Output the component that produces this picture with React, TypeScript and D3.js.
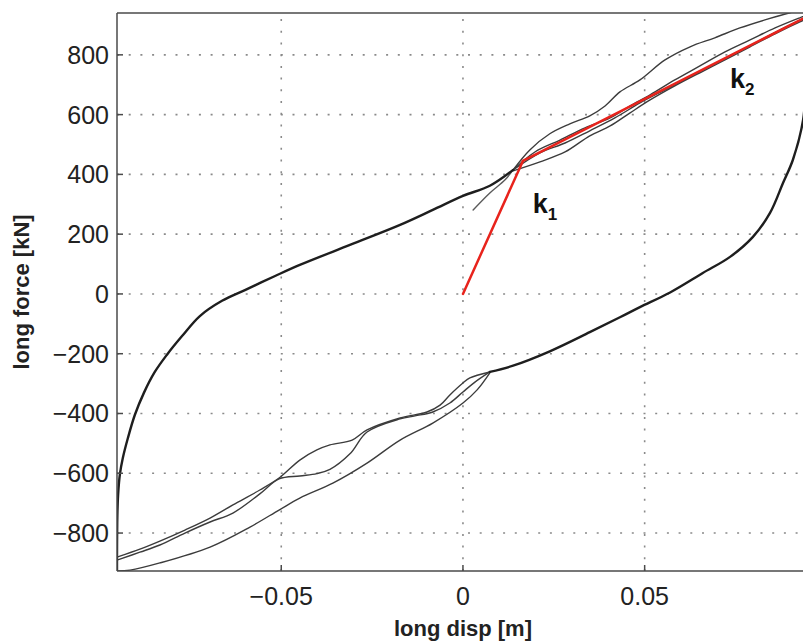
import React from "react";
import * as d3 from "d3";

type P = [number, number];

const xTicks = [-0.05, 0, 0.05];
const xTickLabels = ["\u22120.05", "0", "0.05"];
const yTicks = [-800, -600, -400, -200, 0, 200, 400, 600, 800];
const yTickLabels = ["\u2212800", "\u2212600", "\u2212400", "\u2212200", "0", "200", "400", "600", "800"];

// shared loading branch (left part of the loop)
const upperLeft: P[] = [
  [-0.0952, -927], [-0.0952, -880], [-0.0951, -740], [-0.0949, -673], [-0.0944, -603],
  [-0.0936, -549], [-0.0922, -482], [-0.0903, -405], [-0.0878, -331], [-0.0848, -261],
  [-0.0815, -204], [-0.0773, -141], [-0.0724, -74], [-0.0663, -23], [-0.06, 13],
  [-0.0517, 60], [-0.0449, 97], [-0.0311, 164], [-0.0173, 231], [-0.0083, 281],
  [0, 328], [0.0074, 362], [0.0138, 415],
];

// virgin loading curve
const virgin: P[] = [[0.0028, 281], [0.0074, 338], [0.0116, 382], [0.0138, 415]];

// loading strands, upper right
const upper1: P[] = [
  [0.0138, 415], [0.0184, 482], [0.0239, 536], [0.0294, 569], [0.0349, 596], [0.0391, 629],
  [0.0432, 676], [0.0487, 716], [0.0556, 783], [0.0625, 827], [0.0693, 857], [0.0762, 890],
  [0.0831, 917], [0.09, 941], [0.0955, 957],
];
const upper2: P[] = [
  [0.0138, 415], [0.0198, 475], [0.0267, 515], [0.0336, 556], [0.0405, 589], [0.046, 629],
  [0.0515, 666], [0.0583, 716], [0.0652, 763], [0.0721, 810], [0.079, 850], [0.0859, 890],
  [0.0927, 924], [0.0955, 937],
];
const upper3: P[] = [
  [0.0138, 415], [0.0212, 472], [0.0281, 505], [0.0349, 546], [0.0418, 589], [0.0487, 639],
  [0.0556, 683], [0.0625, 726], [0.0693, 770], [0.0762, 813], [0.0831, 857], [0.09, 900],
  [0.0955, 931],
];
const upper4: P[] = [
  [0.0138, 412], [0.0212, 442], [0.0281, 475], [0.0349, 529], [0.0405, 562], [0.046, 606],
  [0.0515, 649], [0.0583, 696], [0.0652, 740], [0.0721, 783], [0.079, 827], [0.0859, 870],
  [0.0927, 910], [0.0955, 924],
];

// shared unloading branch (right part)
const rightDown: P[] = [
  [0.0955, 951], [0.0949, 850], [0.0944, 716], [0.0936, 582], [0.0908, 449], [0.0881, 372],
  [0.0845, 271], [0.0798, 191], [0.0735, 124], [0.066, 70], [0.057, 5], [0.0487, -44],
  [0.0432, -78], [0.0349, -128], [0.0239, -192], [0.0138, -240], [0.0074, -261],
];

// unloading strands, lower left
const lower1: P[] = [
  [0.0074, -261], [0.0019, -281], [0, -298], [-0.0036, -338], [-0.0063, -372], [-0.0099, -395],
  [-0.0173, -415], [-0.0264, -455], [-0.0305, -489], [-0.0366, -505], [-0.0402, -522],
  [-0.0449, -556], [-0.0506, -616], [-0.0559, -656], [-0.0633, -706], [-0.0696, -750],
  [-0.0765, -790], [-0.0834, -827], [-0.0889, -854], [-0.0944, -877], [-0.0952, -880],
];
const lower2: P[] = [
  [0.0074, -261], [0.0033, -295], [0, -328], [-0.0036, -365], [-0.0083, -395], [-0.0132, -408],
  [-0.0173, -418], [-0.0264, -462], [-0.0311, -535], [-0.0366, -587], [-0.0402, -601],
  [-0.0449, -609], [-0.0506, -619], [-0.0559, -669], [-0.0633, -733], [-0.0696, -763],
  [-0.0765, -800], [-0.0834, -840], [-0.0889, -864], [-0.0944, -887], [-0.0952, -890],
];
const lower3: P[] = [
  [0.0074, -264], [0.0039, -321], [0, -365], [-0.0083, -432], [-0.0173, -489], [-0.0264, -566],
  [-0.0358, -633], [-0.0449, -683], [-0.0506, -723], [-0.0586, -780], [-0.0696, -847],
  [-0.0834, -900], [-0.0916, -924], [-0.0952, -927],
];

// stiffness lines
const k1Line: P[] = [[0, 0], [0.0165, 445]];
const k2Line: P[] = [[0.0165, 445], [0.0955, 933]];
const k1Pos: P = [0.0192, 270];
const k2Pos: P = [0.0735, 690];

const W = 803;
const H = 641;
const L = 117, R = 810, T = 13, B = 571;

export default function App() {
  const x = d3.scaleLinear().domain([-0.0952, 0.0955]).range([L, R]);
  const y = d3.scaleLinear().domain([-927, 940]).range([B, T]);
  const line = d3
    .line<P>()
    .x((d) => x(d[0]))
    .y((d) => y(d[1]))
    .curve(d3.curveCatmullRom.alpha(0.5));
  const straight = d3.line<P>().x((d) => x(d[0])).y((d) => y(d[1]));

  const font = "'Liberation Sans', Arial, Helvetica, sans-serif";
  const strands = [upper1, upper2, upper3, upper4, lower1, lower2, lower3];

  return (
    <svg
      width={W}
      height={H}
      style={{ position: "absolute", left: 0, top: 0, background: "#fff" }}
    >
      <defs>
        <clipPath id="plotclip">
          <rect x={L} y={T} width={R - L} height={B - T} />
        </clipPath>
      </defs>
      <rect x={0} y={0} width={W} height={H} fill="#fff" />
      {/* grid */}
      <g stroke="#8a8a8a" strokeWidth={1.6} strokeDasharray="2,9.7">
        {xTicks.map((t) => (
          <line key={"gx" + t} x1={x(t)} x2={x(t)} y1={B} y2={T} />
        ))}
        {yTicks.map((t) => (
          <line key={"gy" + t} x1={L} x2={R} y1={y(t)} y2={y(t)} />
        ))}
      </g>
      <g clipPath="url(#plotclip)" fill="none" strokeLinejoin="round" strokeLinecap="round">
        <path d={line(virgin) || ""} stroke="#5a5a5a" strokeWidth={1.4} />
        {strands.map((s, i) => (
          <path key={i} d={line(s) || ""} stroke="#3c3c3c" strokeWidth={1.4} />
        ))}
        <path d={line(upperLeft) || ""} stroke="#1e1e1e" strokeWidth={2.4} />
        <path d={line(rightDown) || ""} stroke="#1e1e1e" strokeWidth={2.4} />
        <path d={straight(k1Line) || ""} stroke="#e8231c" strokeWidth={2.5} />
        <path d={straight(k2Line) || ""} stroke="#e8231c" strokeWidth={2.5} />
      </g>
      {/* frame */}
      <g stroke="#4a4a4a" strokeWidth={1.5} fill="none">
        <line x1={L} x2={L} y1={T} y2={B} />
        <line x1={L} x2={R} y1={B} y2={B} />
        <line x1={L} x2={R} y1={T} y2={T} />
        {xTicks.map((t) => (
          <line key={"tx" + t} x1={x(t)} x2={x(t)} y1={B} y2={B - 6} />
        ))}
        {yTicks.map((t) => (
          <line key={"ty" + t} x1={L} x2={L + 6} y1={y(t)} y2={y(t)} />
        ))}
      </g>
      {/* tick labels */}
      <g fontFamily={font} fontSize={25} fill="#222">
        {yTicks.map((t, i) => (
          <text key={"ly" + t} x={109} y={y(t)} dy="0.36em" textAnchor="end">
            {yTickLabels[i]}
          </text>
        ))}
        {xTicks.map((t, i) => (
          <text key={"lx" + t} x={x(t)} y={605} textAnchor="middle">
            {xTickLabels[i]}
          </text>
        ))}
      </g>
      <text x={x(0)} y={636} textAnchor="middle" fontFamily={font} fontSize={22} fontWeight="bold" fill="#222">
        long disp [m]
      </text>
      <text
        transform={`translate(29, ${(T + B) / 2}) rotate(-90)`}
        textAnchor="middle"
        fontFamily={font}
        fontSize={22}
        fontWeight="bold"
        fill="#222"
      >
        long force [kN]
      </text>
      <g fontFamily={font} fontWeight="bold" fill="#111">
        <text x={x(k1Pos[0])} y={y(k1Pos[1])} fontSize={27}>
          k<tspan fontSize={17} dy={7}>1</tspan>
        </text>
        <text x={x(k2Pos[0])} y={y(k2Pos[1])} fontSize={27}>
          k<tspan fontSize={17} dy={7}>2</tspan>
        </text>
      </g>
    </svg>
  );
}
